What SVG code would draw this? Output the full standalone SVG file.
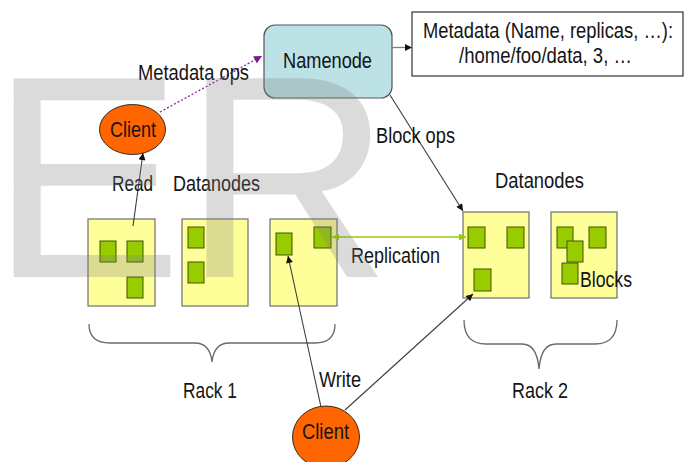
<svg xmlns="http://www.w3.org/2000/svg" width="690" height="462" viewBox="0 0 690 462">
<defs>
<style>
.t{font-family:'Liberation Sans',Arial,sans-serif;font-size:22px;fill:#141414;text-anchor:middle}
.dn{fill:#ffff99;stroke:#6e6e6e;stroke-width:1.2}
.blk{fill:#99cc00;stroke:#3f5400;stroke-width:1}
.cl{fill:#ff6600;stroke:#3a2a1a;stroke-width:1}
.ln{fill:none;stroke:#3c3c3c;stroke-width:1.1}
.br{fill:none;stroke:#6a6a6a;stroke-width:1.3}
.wm{font-family:'Liberation Sans',Arial,sans-serif;font-size:289px;fill:#7f7f7f;fill-opacity:0.28}
</style>
<marker id="ah" viewBox="0 0 10 10" refX="10" refY="5" markerWidth="8" markerHeight="7" markerUnits="userSpaceOnUse" orient="auto">
<path d="M0,0 L10,5 L0,10 z" fill="#111"/>
</marker>
<marker id="ap" viewBox="0 0 10 10" refX="10" refY="5" markerWidth="9" markerHeight="8" markerUnits="userSpaceOnUse" orient="auto">
<path d="M0,0 L10,5 L0,10 z" fill="#7a1a8a"/>
</marker>
<marker id="ag" viewBox="0 0 10 10" refX="10" refY="5" markerWidth="7" markerHeight="7" markerUnits="userSpaceOnUse" orient="auto-start-reverse">
<path d="M0,0 L10,5 L0,10 z" fill="#99cc00"/>
</marker>
</defs>
<rect width="690" height="462" fill="#ffffff"/>

<g id="namenode">
<rect x="264" y="25" width="128" height="73" rx="11" fill="#bce2e6" stroke="#555" stroke-width="1.2"/>
<text class="t" x="327.5" y="68" textLength="89" lengthAdjust="spacingAndGlyphs">Namenode</text>
</g>

<g id="metadata">
<rect x="412" y="12" width="271" height="64" fill="#ffffff" stroke="#333" stroke-width="1.2"/>
<text class="t" x="548" y="38" textLength="250" lengthAdjust="spacingAndGlyphs">Metadata (Name, replicas, …):</text>
<text class="t" x="545.5" y="63" textLength="173" lengthAdjust="spacingAndGlyphs">/home/foo/data, 3, …</text>
</g>

<g id="client-read">
<ellipse class="cl" cx="132.5" cy="129.5" rx="33" ry="25"/>
<text class="t" x="133" y="137" textLength="46" lengthAdjust="spacingAndGlyphs">Client</text>
</g>

<g id="rack1">
<text class="t" x="216.5" y="191" textLength="87" lengthAdjust="spacingAndGlyphs">Datanodes</text>
<g id="dn1">
<rect class="dn" x="88" y="219" width="67" height="87"/>
<rect class="blk" x="100" y="241" width="16" height="21"/>
<rect class="blk" x="127" y="241" width="16" height="21"/>
<rect class="blk" x="127" y="277" width="16" height="21"/>
</g>
<g id="dn2">
<rect class="dn" x="182" y="219" width="66" height="87"/>
<rect class="blk" x="188" y="227" width="16" height="21"/>
<rect class="blk" x="188" y="262" width="16" height="21"/>
</g>
<g id="dn3">
<rect class="dn" x="270" y="219" width="67" height="87"/>
<rect class="blk" x="276" y="233" width="16" height="22"/>
<rect class="blk" x="314" y="227" width="17" height="21"/>
</g>
<path class="br" d="M89,324 Q89,343 110,343 L195,343 Q210,343 212,362 Q214,343 229,343 L315,343 Q335,343 335,324"/>
<text class="t" x="210" y="398" textLength="54" lengthAdjust="spacingAndGlyphs">Rack 1</text>
</g>

<g id="rack2">
<text class="t" x="539.5" y="188" textLength="89" lengthAdjust="spacingAndGlyphs">Datanodes</text>
<g id="dn4">
<rect class="dn" x="463" y="212" width="66" height="86"/>
<rect class="blk" x="468" y="227" width="17" height="21"/>
<rect class="blk" x="507" y="227" width="17" height="21"/>
<rect class="blk" x="474" y="269" width="17" height="22"/>
</g>
<g id="dn5">
<rect class="dn" x="551" y="212" width="66" height="86"/>
<rect class="blk" x="557" y="227" width="16" height="21"/>
<rect class="blk" x="589" y="227" width="17" height="21"/>
<rect class="blk" x="567" y="241" width="16" height="21"/>
<rect class="blk" x="562" y="263" width="16" height="21"/>
<text class="t" x="606" y="287" textLength="52" lengthAdjust="spacingAndGlyphs">Blocks</text>
</g>
<path class="br" d="M464,320 Q464,344 486,344 L522,344 Q537,344 539,369 Q541,344 556,344 L595,344 Q617,344 617,320"/>
<text class="t" x="540" y="398" textLength="56" lengthAdjust="spacingAndGlyphs">Rack 2</text>
</g>

<g id="client-write">
<ellipse class="cl" cx="326" cy="437" rx="33.5" ry="31"/>
<text class="t" x="325.5" y="439" textLength="47" lengthAdjust="spacingAndGlyphs">Client</text>
</g>

<g id="connectors">
<line x1="160" y1="112" x2="262" y2="56" stroke="#8a2a9a" stroke-width="1.3" stroke-dasharray="2,2" marker-end="url(#ap)"/>
<text class="t" x="193.5" y="80" textLength="111" lengthAdjust="spacingAndGlyphs">Metadata ops</text>
<line x1="392" y1="47.5" x2="412" y2="47.5" stroke="#808080" stroke-width="1.3" marker-end="url(#ah)"/>
<line class="ln" x1="133" y1="226" x2="143" y2="153" marker-end="url(#ah)"/>
<text class="t" x="132.5" y="191" textLength="41" lengthAdjust="spacingAndGlyphs">Read</text>
<line class="ln" x1="390" y1="95" x2="463" y2="211" marker-end="url(#ah)"/>
<text class="t" x="415.5" y="143" textLength="79" lengthAdjust="spacingAndGlyphs">Block ops</text>
<line x1="332" y1="237" x2="466" y2="237" stroke="#99cc00" stroke-width="1.6" marker-start="url(#ag)" marker-end="url(#ag)"/>
<text class="t" x="395.5" y="263" textLength="89" lengthAdjust="spacingAndGlyphs">Replication</text>
<line class="ln" x1="321" y1="407" x2="288" y2="256" marker-end="url(#ah)"/>
<line class="ln" x1="345" y1="410" x2="473" y2="294" marker-end="url(#ah)"/>
<text class="t" x="340" y="387" textLength="42" lengthAdjust="spacingAndGlyphs">Write</text>
</g>

<text class="wm" x="-10" y="277">ER</text>
</svg>
